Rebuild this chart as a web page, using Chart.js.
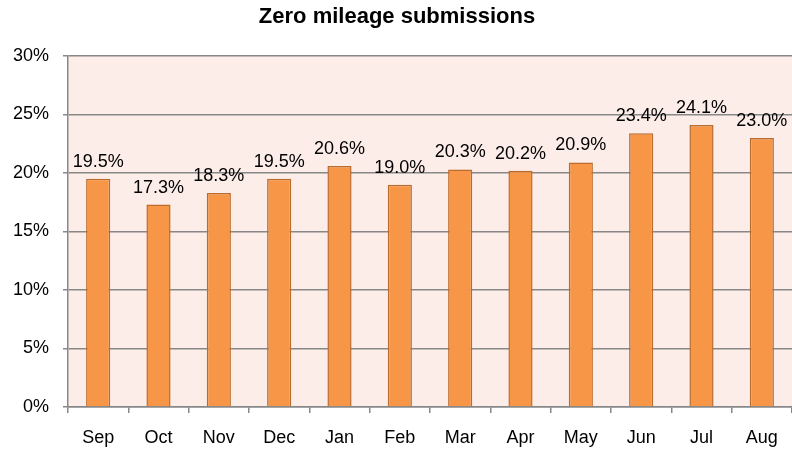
<!DOCTYPE html>
<html>
<head>
<meta charset="utf-8">
<script src="https://cdn.jsdelivr.net/npm/chart.js@4"></script>
<style>
  html, body { margin: 0; padding: 0; background: #ffffff; }
  #wrap { width: 792px; height: 452px; }
</style>
</head>
<body>
<div id="wrap"><canvas id="c" width="792" height="452"></canvas></div>
<script>
const chartTitle = "Zero mileage submissions";
const months = ["Sep", "Oct", "Nov", "Dec", "Jan", "Feb", "Mar", "Apr", "May", "Jun", "Jul", "Aug"];
const zeroMileagePct = [19.5, 17.3, 18.3, 19.5, 20.6, 19.0, 20.3, 20.2, 20.9, 23.4, 24.1, 23.0];
const yTickStep = 5;
const yMax = 30;

const FONT = "'Liberation Sans', Arial, sans-serif";

const plotBg = {
  id: 'plotBg',
  beforeDraw(chart) {
    const { ctx, chartArea: a } = chart;
    ctx.save();
    ctx.fillStyle = '#FCEDE8';
    ctx.fillRect(a.left, a.top, a.right - a.left, a.bottom - a.top);
    ctx.restore();
  }
};

const valueLabels = {
  id: 'valueLabels',
  afterDatasetsDraw(chart) {
    const { ctx } = chart;
    const meta = chart.getDatasetMeta(0);
    ctx.save();
    ctx.font = "18px " + FONT;
    ctx.fillStyle = '#000000';
    ctx.textAlign = 'center';
    ctx.textBaseline = 'alphabetic';
    meta.data.forEach((bar, i) => {
      const v = chart.data.datasets[0].data[i];
      ctx.fillText(v.toFixed(1) + '%', bar.x, bar.y - 12);
    });
    ctx.restore();
  }
};

new Chart(document.getElementById('c'), {
  type: 'bar',
  data: {
    labels: months,
    datasets: [{
      data: zeroMileagePct,
      backgroundColor: '#F79646',
      borderColor: '#BA6B2E',
      borderWidth: 1.5,
      barPercentage: 0.4,
      categoryPercentage: 1.0
    }]
  },
  options: {
    responsive: false,
    animation: false,
    devicePixelRatio: 1,
    layout: { padding: { left: 0, right: -2, top: 0, bottom: 0 } },
    plugins: {
      legend: { display: false },
      tooltip: { enabled: false },
      title: {
        display: true,
        text: chartTitle,
        color: '#000000',
        font: { family: FONT, size: 22, weight: 'bold' },
        padding: { top: 4, bottom: 25.6 }
      }
    },
    scales: {
      x: {
        offset: true,
        afterFit(scale) { scale.height = 45; },
        grid: {
          display: true,
          offset: true,
          drawOnChartArea: false,
          drawTicks: true,
          tickLength: 6,
          color: '#888888',
          lineWidth: 1.5
        },
        border: { display: true, color: '#888888', width: 1.5 },
        ticks: {
          color: '#000000',
          font: { family: FONT, size: 18 },
          padding: 14,
          maxRotation: 0
        }
      },
      y: {
        min: 0,
        max: yMax,
        afterFit(scale) { scale.width = 68; },
        grid: {
          color: '#888888',
          lineWidth: 1.5,
          drawTicks: true,
          tickLength: 5
        },
        border: { display: true, color: '#888888', width: 1.5 },
        ticks: {
          stepSize: yTickStep,
          color: '#000000',
          font: { family: FONT, size: 18 },
          padding: 14,
          callback: v => v + '%'
        }
      }
    }
  },
  plugins: [plotBg, valueLabels]
});
</script>
</body>
</html>
